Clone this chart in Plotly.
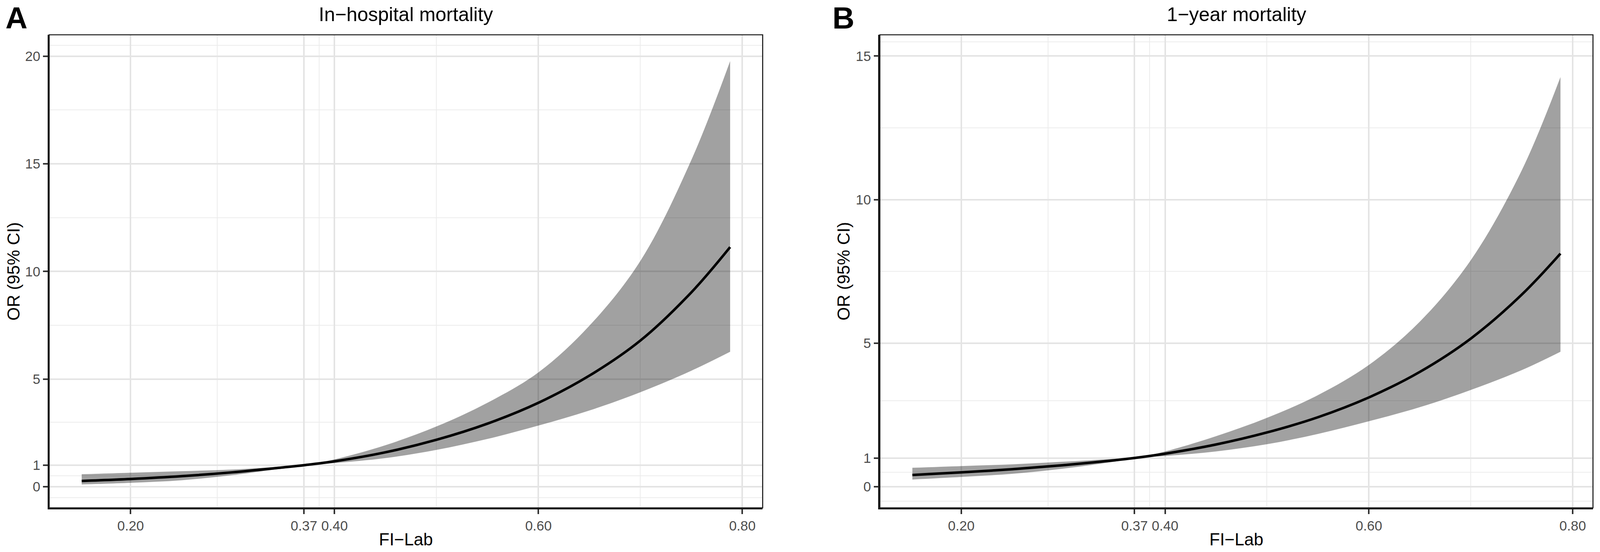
import plotly.graph_objects as go

# ---------------- data ----------------
fi_lab = [0.152, 0.20, 0.25, 0.30, 0.35, 0.37, 0.40, 0.45, 0.50, 0.55, 0.60, 0.65, 0.70, 0.75, 0.788]

# Panel A: In-hospital mortality
a_or    = [0.27, 0.36, 0.49, 0.67, 0.90, 1.00, 1.18, 1.60, 2.18, 2.93, 3.90, 5.16, 6.79, 9.03, 11.13]
a_upper = [0.58, 0.65, 0.72, 0.80, 0.94, 1.00, 1.27, 1.93, 2.80, 3.90, 5.31, 7.48, 10.49, 15.18, 19.77]
a_lower = [0.105, 0.18, 0.30, 0.54, 0.86, 1.00, 1.10, 1.33, 1.71, 2.22, 2.84, 3.54, 4.39, 5.39, 6.27]

# Panel B: 1-year mortality
b_or    = [0.41, 0.50, 0.61, 0.75, 0.92, 1.00, 1.15, 1.47, 1.89, 2.42, 3.11, 4.00, 5.16, 6.69, 8.12]
b_upper = [0.66, 0.72, 0.78, 0.87, 0.97, 1.00, 1.23, 1.76, 2.40, 3.19, 4.24, 5.75, 7.89, 11.02, 14.27]
b_lower = [0.25, 0.34, 0.45, 0.63, 0.87, 1.00, 1.07, 1.23, 1.48, 1.84, 2.28, 2.77, 3.37, 4.06, 4.70]

x_ticks = [0.20, 0.37, 0.40, 0.60, 0.80]
x_tick_labels = ["0.20", "0.37", "0.40", "0.60", "0.80"]
x_minor = [0.285, 0.385, 0.50, 0.70]

a_y_ticks = [0, 1, 5, 10, 15, 20]
a_y_minor = [-0.5, 0.5, 3, 7.5, 12.5, 17.5, 20.5]
b_y_ticks = [0, 1, 5, 10, 15]
b_y_minor = [-0.5, 0.5, 3, 7.5, 12.5, 15.5]

titles = ["In\u2212hospital mortality", "1\u2212year mortality"]
panel_tags = ["A", "B"]
x_title = "FI\u2212Lab"
y_title = "OR (95% CI)"

# ---------------- layout constants ----------------
REF_W, H = 4328, 1412          # reference geometry (positions measured in these pixels)
W = 4096                       # browser viewport is 4096 wide, so the figure is sized to it
FS = 0.97                      # slight font compensation for the narrower canvas
FONT = "Liberation Sans, Arial, Helvetica, sans-serif"

def px_x(p):
    return p / REF_W

def px_y(p):
    return 1 - p / H

dom_a = [px_x(133), px_x(2063)]
dom_b = [px_x(2380), px_x(4309)]
dom_y = [px_y(1299), px_y(89)]

fig = go.Figure()

band_fill = "rgba(0,0,0,0.37)"

def add_panel(xa, ya, lo, hi, mid):
    fig.add_trace(go.Scatter(x=fi_lab, y=lo, mode="lines", line=dict(width=0, shape="spline"),
                             xaxis=xa, yaxis=ya, showlegend=False, hoverinfo="skip"))
    fig.add_trace(go.Scatter(x=fi_lab, y=hi, mode="lines", line=dict(width=0, shape="spline"),
                             fill="tonexty", fillcolor=band_fill,
                             xaxis=xa, yaxis=ya, showlegend=False, hoverinfo="skip"))
    fig.add_trace(go.Scatter(x=fi_lab, y=mid, mode="lines",
                             line=dict(color="black", width=6.5, shape="spline"),
                             xaxis=xa, yaxis=ya, showlegend=False))

add_panel("x", "y", a_lower, a_upper, a_or)
add_panel("x2", "y2", b_lower, b_upper, b_or)

grid_major = "#e4e4e4"
grid_minor = "#ececec"
tick_font = dict(family=FONT, size=round(36 * FS), color="#4d4d4d")

def xaxis_cfg(domain, anchor):
    return dict(
        domain=domain, anchor=anchor, range=[0.1201, 0.8199],
        tickmode="array", tickvals=x_ticks, ticktext=x_tick_labels,
        ticks="outside", ticklen=12, tickwidth=3.5, tickcolor="#333333",
        tickfont=tick_font,
        showgrid=True, gridcolor=grid_major, gridwidth=4,
        minor=dict(tickmode="array", tickvals=x_minor, showgrid=True,
                   gridcolor=grid_minor, gridwidth=2, ticks=""),
        showline=True, linecolor="#1a1a1a", linewidth=3.5,
        zeroline=False, fixedrange=True,
    )

def yaxis_cfg(anchor, rng, ticks, minor):
    return dict(
        domain=dom_y, anchor=anchor, range=rng,
        tickmode="array", tickvals=ticks, ticktext=[str(t) for t in ticks],
        ticks="outside", ticklen=12, tickwidth=3.5, tickcolor="#333333",
        tickfont=tick_font,
        showgrid=True, gridcolor=grid_major, gridwidth=4,
        minor=dict(tickmode="array", tickvals=minor, showgrid=True,
                   gridcolor=grid_minor, gridwidth=2, ticks=""),
        showline=True, linecolor="#1a1a1a", linewidth=3.5,
        zeroline=False, fixedrange=True,
    )

fig.update_layout(
    width=W, height=H,
    margin=dict(l=0, r=0, t=0, b=0),
    paper_bgcolor="white", plot_bgcolor="white",
    showlegend=False,
    font=dict(family=FONT, color="black"),
    xaxis=xaxis_cfg(dom_a, "y"),
    yaxis=yaxis_cfg("x", [-0.98, 20.99], a_y_ticks, a_y_minor),
    xaxis2=xaxis_cfg(dom_b, "y2"),
    yaxis2=yaxis_cfg("x2", [-0.735, 15.74], b_y_ticks, b_y_minor),
)

# panel borders (theme_bw style)
for xr, yr in [("x domain", "y domain"), ("x2 domain", "y2 domain")]:
    fig.add_shape(type="rect", xref=xr, yref=yr, x0=0, x1=1, y0=0, y1=1,
                  line=dict(color="#1a1a1a", width=2.7), fillcolor="rgba(0,0,0,0)", layer="above")

annotations = []
panels = [(dom_a, 13), (dom_b, 2250)]
ytitle_x = [36, 2281]
for i, (dom, tag_x) in enumerate(panels):
    cx = (dom[0] + dom[1]) / 2
    annotations.append(dict(text=panel_tags[i], x=px_x(tag_x), y=px_y(0), xref="paper", yref="paper",
                            xanchor="left", yanchor="top", showarrow=False,
                            font=dict(family=FONT, size=round(80 * FS), color="black", weight="bold")))
    annotations.append(dict(text=titles[i], x=cx, y=px_y(7), xref="paper", yref="paper",
                            xanchor="center", yanchor="top", showarrow=False,
                            font=dict(family=FONT, size=round(52 * FS), color="black")))
    annotations.append(dict(text=x_title, x=cx, y=px_y(1406), xref="paper", yref="paper",
                            xanchor="center", yanchor="bottom", showarrow=False,
                            font=dict(family=FONT, size=round(45 * FS), color="black")))
    annotations.append(dict(text=y_title, x=px_x(ytitle_x[i]), y=(dom_y[0] + dom_y[1]) / 2,
                            xref="paper", yref="paper", textangle=-90,
                            xanchor="center", yanchor="middle", showarrow=False,
                            font=dict(family=FONT, size=round(45 * FS), color="black")))
fig.update_layout(annotations=annotations)

fig.write_html("out.html", config={"displayModeBar": False},
               post_script="document.body.style.margin='0';")
